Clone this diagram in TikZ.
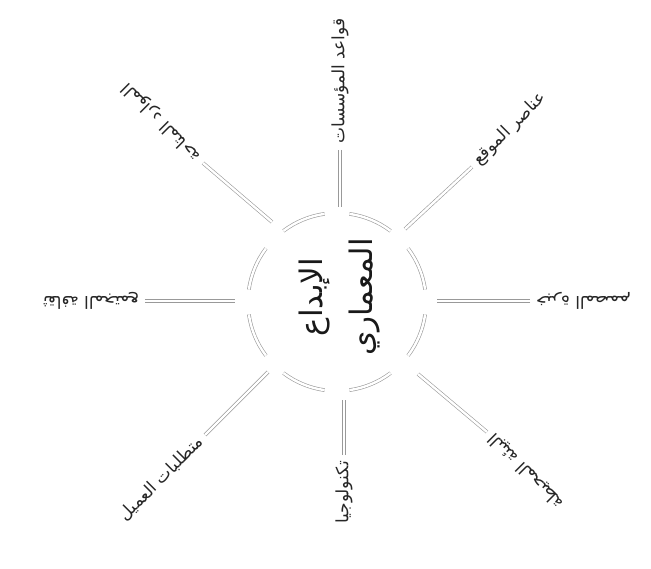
\documentclass[tikz,border=0pt]{standalone}
\usepackage{fontspec}
\newfontfamily\arabicfont[Script=Arabic]{DejaVu Sans}
\TeXXeTstate=1

\begin{document}
\begin{tikzpicture}[
    x=1pt, y=1pt,
    lbl/.style={inner sep=0pt, outer sep=6pt, text=black!85, font=\arabicfont\fontsize{17}{20}\selectfont},
    link/.style={draw=black!40, double=white, double distance=2.4pt, line width=0.6pt},
    ring/.style={draw=black!40, double=white, double distance=2.4pt, line width=0.6pt}
  ]
    \useasboundingbox (-337,-267) rectangle (314,302);
    \node[rotate=90, align=center, text=black!90, font=\arabicfont\fontsize{31}{50}\selectfont] (core) at (3,5)
      {\beginR الإبداع\endR\\\beginR المعماري\endR};
    % ring broken where the arrows meet it
    \draw[ring] (8:89) arc[start angle=8, end angle=37, radius=89];
    \draw[ring] (53:89) arc[start angle=53, end angle=82, radius=89];
    \draw[ring] (98:89) arc[start angle=98, end angle=127, radius=89];
    \draw[ring] (143:89) arc[start angle=143, end angle=172, radius=89];
    \draw[ring] (188:89) arc[start angle=188, end angle=217, radius=89];
    \draw[ring] (233:89) arc[start angle=233, end angle=262, radius=89];
    \draw[ring] (278:89) arc[start angle=278, end angle=307, radius=89];
    \draw[ring] (323:89) arc[start angle=323, end angle=352, radius=89];
    % arrow ends
    \coordinate (nIn) at (3,95);     \coordinate (nOut) at (3,152);
    \coordinate (neIn) at (68,73);   \coordinate (neOut) at (135,135);
    \coordinate (eIn) at (100,1);    \coordinate (eOut) at (193,1);
    \coordinate (seIn) at (81,-72);  \coordinate (seOut) at (150,-130);
    \coordinate (sIn) at (7,-98);    \coordinate (sOut) at (7,-153);
    \coordinate (swIn) at (-69,-70); \coordinate (swOut) at (-132,-133);
    \coordinate (wIn) at (-102,1);   \coordinate (wOut) at (-192,1);
    \coordinate (nwIn) at (-65,80);  \coordinate (nwOut) at (-134,139);
    \draw[link] (nOut) -- (nIn);
    \draw[link] (neOut) -- (neIn);
    \draw[link] (eOut) -- (eIn);
    \draw[link] (seOut) -- (seIn);
    \draw[link] (sOut) -- (sIn);
    \draw[link] (swOut) -- (swIn);
    \draw[link] (wOut) -- (wIn);
    \draw[link] (nwOut) -- (nwIn);
    % labels
    \node[lbl, rotate=90, anchor=west] (nLbl) at (nOut) {\beginR قواعد المؤسسات\endR};
    \node[lbl, rotate=45, anchor=west] (neLbl) at (neOut) {\beginR عناصر الموقع\endR};
    \node[lbl, rotate=180, anchor=east] (eLbl) at (eOut) {\beginR خبرة المصمم\endR};
    \node[lbl, rotate=135, anchor=east] (seLbl) at (seOut) {\beginR البيئة المحيطة\endR};
    \node[lbl, rotate=90, anchor=east] (sLbl) at (sOut) {\beginR تكنولوجيا\endR};
    \node[lbl, rotate=45, anchor=east] (swLbl) at (swOut) {\beginR متطلبات العميل\endR};
    \node[lbl, rotate=180, anchor=west] (wLbl) at (wOut) {\beginR ثقافة المجتمع\endR};
    \node[lbl, rotate=135, anchor=west] (nwLbl) at (nwOut) {\beginR الموارد المتاحة\endR};
\end{tikzpicture}
\end{document}
